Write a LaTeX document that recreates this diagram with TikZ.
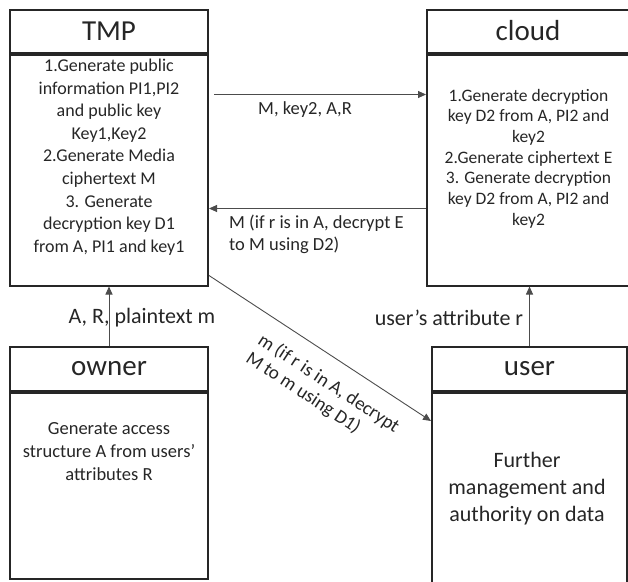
\documentclass[tikz,border=0pt]{standalone}
\usepackage{fontspec}
\setmainfont{Carlito}
\usetikzlibrary{arrows.meta,positioning}
\begin{document}
\begin{tikzpicture}[
    x=1pt, y=-1pt,
    line join=miter,
    head/.style={draw=black!85, line width=2pt, inner sep=0pt, minimum height=43pt,
        text=black!85, font=\fontsize{29}{34}\selectfont},
    body/.style={draw=black!85, line width=2pt, inner sep=0pt},
    txt/.style={align=center, inner sep=0pt, text=black!85, font=\fontsize{18}{22.6}\selectfont},
    lbl/.style={align=left, inner sep=0pt, text=black!85, font=\fontsize{18.5}{21.7}\selectfont},
    arr/.style={draw=black!70, line width=0.9pt, -{Triangle[length=8pt,width=7pt]}}
]
\useasboundingbox (0,0) rectangle (628,581);

% boxes
\node[head, minimum width=198pt] (tmph) at (109,31) {TMP};
\node[body, minimum width=198pt, minimum height=231pt, anchor=north] (tmpb) at (tmph.south) {};
\node[head, minimum width=202pt] (cloudh) at (528,31) {cloud};
\node[body, minimum width=202pt, minimum height=231pt, anchor=north] (cloudb) at (cloudh.south) {};
\node[head, minimum width=198pt, minimum height=44pt] (ownerh) at (109,369) {owner};
\node[body, minimum width=198pt, minimum height=186pt, anchor=north] (ownerb) at (ownerh.south) {};
\node[head, minimum width=195pt, minimum height=44pt] (userh) at (529.5,369) {user};
\node[body, minimum width=195pt, minimum height=215pt, anchor=north] (userb) at (userh.south) {};

% box texts
\node[txt] (tmpt) at (109,157) {1.Generate public\\information PI1,PI2\\and public key\\Key1,Key2\\2.Generate Media\\ciphertext M\\3. Generate\\decryption key D1\\from A, PI1 and key1};
\node[txt, font=\fontsize{17.5}{20.7}\selectfont] (cloudt) at (528.5,158.5) {1.Generate decryption\\key D2 from A, PI2 and\\key2\\2.Generate ciphertext E\\3. Generate decryption\\key D2 from A, PI2 and\\key2};
\node[txt, font=\fontsize{18.5}{23.3}\selectfont] (ownert) at (109,451.5) {Generate access\\structure A from users'\\attributes R};
\node[txt, font=\fontsize{22}{26.7}\selectfont] (usert) at (527,488.5) {Further\\management and\\authority on data};

% connectors
\draw[arr] ([shift={(5,41)}]tmpb.north east) -- ([shift={(0,41)}]cloudb.north west);
\draw[arr] ([shift={(0,155)}]cloudb.north west) -- ([shift={(0,155)}]tmpb.north east);
\draw[arr] (ownerh.north) -- (tmpb.south);
\draw[arr] (userh.north) -- (userh.north |- cloudb.south);
\draw[arr] ([shift={(0,-11)}]tmpb.south east) -- ([shift={(0,29)}]userb.north west)
    node[lbl, pos=0.6, sloped, below=16pt, font=\fontsize{19}{21.7}\selectfont] (dlbl) {m (if r is in A, decrypt\\M to m using D1)};

% connector labels
\node[lbl, anchor=west] (mlbl) at (258,110) {M, key2, A,R};
\node[lbl, anchor=west] (elbl) at (229,234) {M (if r is in A, decrypt E\\to M using D2)};
\node[lbl, font=\fontsize{22}{26}\selectfont] (albl) at (142,318) {A, R, plaintext m};
\node[lbl, font=\fontsize{22}{26}\selectfont] (rlbl) at (449,318) {user’s attribute r};
\end{tikzpicture}
\end{document}
